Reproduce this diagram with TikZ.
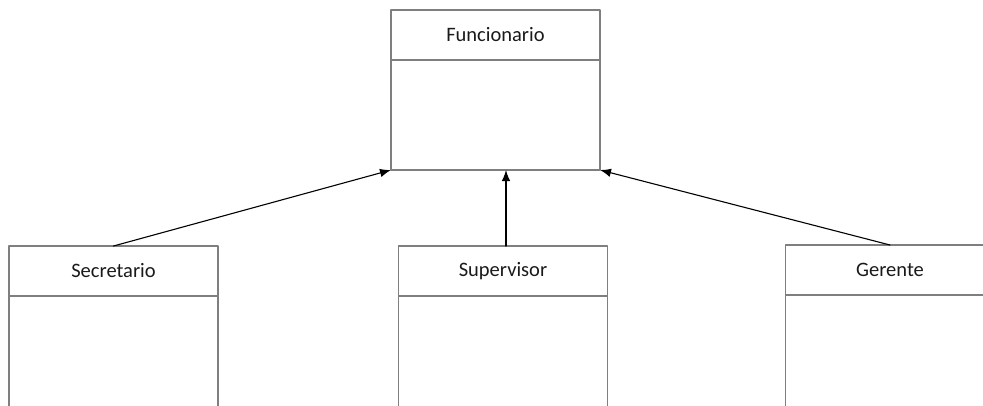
\documentclass[tikz,border=0pt]{standalone}
\usepackage{fontspec}
\setmainfont{Carlito}
\usepackage{xcolor}
\usepackage{tikz}
\usetikzlibrary{positioning,arrows.meta}
\definecolor{boxline}{HTML}{7F7F7F}
\definecolor{ink}{HTML}{1A1A1A}
\tikzset{
  ClassHead/.style={
    draw=boxline, line width=1.5pt, outer sep=0pt,
    minimum width=209pt, minimum height=50pt,
    font=\fontsize{20.5}{24}\selectfont, text=ink
  },
  ClassBody/.style={
    draw=boxline, line width=1.5pt, outer sep=0pt,
    minimum width=209pt, minimum height=#1
  },
  ClassBody/.default=110pt,
  Inherit/.style={
    draw=black, line width=1.1pt,
    -{Latex[length=11pt,width=8.5pt]}
  }
}

\begin{document}
\begin{tikzpicture}[x=1pt, y=-1pt, line cap=round, line join=round]
  \useasboundingbox (0,0) rectangle (983,405);
  \clip (0,0) rectangle (983,405);

  % superclass
  \node[ClassHead] (func) at (495.5,35) {Funcionario};
  \node[ClassBody, below=0pt of func] (funcbody) {};

  % subclasses (cut off at the bottom)
  \node[ClassHead] (sec) at (113.5,271) {Secretario};
  \node[ClassBody=140pt, below=0pt of sec] (secbody) {};
  \node[ClassHead] (sup) at (503,271) {Supervisor};
  \node[ClassBody=140pt, below=0pt of sup] (supbody) {};
  \node[ClassHead] (ger) at (890,270) {Gerente};
  \node[ClassBody=140pt, below=0pt of ger] (gerbody) {};

  % generalisation arrows
  \draw[Inherit] (sec.north) -- (funcbody.south west);
  \draw[Inherit] ([xshift=3pt]sup.north) -- ([xshift=3pt]sup.north |- funcbody.south);
  \draw[Inherit] (ger.north) -- (funcbody.south east);
\end{tikzpicture}
\end{document}
